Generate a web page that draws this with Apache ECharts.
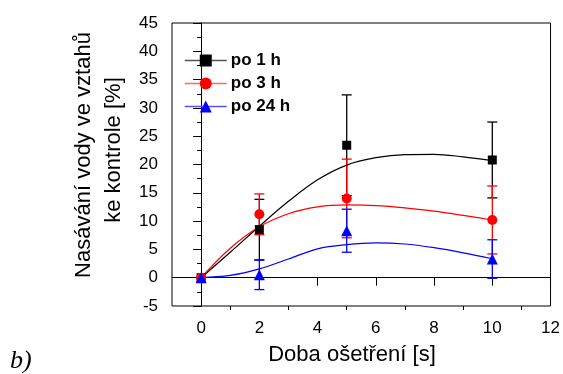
<!DOCTYPE html>
<html>
<head>
<meta charset="utf-8">
<script src="https://cdn.jsdelivr.net/npm/echarts@6/dist/echarts.min.js"></script>
<style>
  html, body { margin: 0; padding: 0; background: #fff; }
  #chart { width: 563px; height: 374px; }
</style>
</head>
<body>
<div id="chart"></div>
<script>
// measured points (treatment time [s])
const doba = [0, 2, 5, 10]
const po1Mean = [0, 8.5, 23.4, 20.8]
const po1Err = [0, 5.35, 8.9, 6.7]
const po3Mean = [0, 11.2, 14.0, 10.2]
const po3Err = [0, 3.6, 6.95, 6.0]
const po24Mean = [0, 0.5, 8.3, 3.3]
const po24Err = [0, 2.6, 3.8, 3.4]

// fitted curves
const fitX = [0, 1, 2, 3, 4, 5, 6, 7, 8, 9, 10]
const po1Fit = [0, 4.5, 9.1, 13.5, 17.3, 19.9, 21.2, 21.75, 21.8, 21.35, 20.7]
const po3Fit = [0, 5.2, 9.0, 11.3, 12.5, 12.85, 12.75, 12.35, 11.75, 11.0, 10.2]
const po24Fit = [0, 0.4, 1.55, 3.3, 5.1, 5.85, 6.15, 5.95, 5.3, 4.4, 3.35]

const xMajor = [0, 2, 4, 6, 8, 10, 12]
const xMinor = [1, 3, 5, 7, 9, 11]

const groups = [
  { name: 'po 1 h', mean: po1Mean, err: po1Err, fit: po1Fit, color: '#000000', legendLine: '#555555', symbol: 'rect', size: 9 },
  { name: 'po 3 h', mean: po3Mean, err: po3Err, fit: po3Fit, color: '#ff0000', legendLine: '#ff6666', symbol: 'circle', size: 10 },
  { name: 'po 24 h', mean: po24Mean, err: po24Err, fit: po24Fit, color: '#0000ff', legendLine: '#5555ff', symbol: 'triangle', size: 11 },
]

const font = 'Liberation Sans, Arial, sans-serif'

const errorSeries = groups.map((g) => ({
  type: 'custom',
  name: g.name + ' err',
  z: 2,
  data: doba.map((x, i) => [x, g.mean[i] - g.err[i], g.mean[i] + g.err[i]]).filter((d, i) => g.err[i] > 0),
  renderItem: function (params, api) {
    const lo = api.coord([api.value(0), api.value(1)])
    const hi = api.coord([api.value(0), api.value(2)])
    const st = { stroke: g.color, lineWidth: 1.3 }
    return {
      type: 'group',
      children: [
        { type: 'line', shape: { x1: lo[0], y1: lo[1], x2: hi[0], y2: hi[1] }, style: st },
        { type: 'line', shape: { x1: lo[0] - 5, y1: lo[1], x2: lo[0] + 5, y2: lo[1] }, style: st },
        { type: 'line', shape: { x1: hi[0] - 5, y1: hi[1], x2: hi[0] + 5, y2: hi[1] }, style: st },
      ],
    }
  },
  silent: true,
}))

const fitSeries = groups.map((g) => ({
  type: 'line',
  name: g.name + ' fit',
  z: 3,
  smooth: 0.35,
  showSymbol: false,
  data: fitX.map((x, i) => [x, g.fit[i]]),
  lineStyle: { color: g.color, width: 1.2 },
  silent: true,
}))

const markerSeries = groups.map((g) => ({
  type: 'line',
  name: g.name,
  z: 4,
  data: doba.map((x, i) => [x, g.mean[i]]),
  symbol: g.symbol,
  symbolSize: g.size,
  itemStyle: { color: g.color },
  lineStyle: { width: 0, color: g.color },
}))

const chart = echarts.init(document.getElementById('chart'))
chart.setOption({
  animation: false,
  backgroundColor: '#fff',
  grid: {
    left: 172, top: 23, right: 10, bottom: 68,
    show: true, borderColor: '#000', borderWidth: 1,
  },
  legend: {
    orient: 'vertical',
    left: 179,
    top: 47,
    itemWidth: 42,
    itemHeight: 15,
    itemGap: 6,
    textStyle: { fontFamily: font, fontSize: 17, fontWeight: 'bold', color: '#000', padding: [0, 0, 0, -1] },
    data: groups.map((g) => ({ name: g.name, lineStyle: { width: 1.5, color: g.legendLine } })),
  },
  xAxis: [
    {
      type: 'value', min: -1, max: 12,
      splitLine: { show: false },
      axisLine: { lineStyle: { color: '#000', width: 1 } },
      axisTick: { show: true, inside: false, length: 8, customValues: xMajor, lineStyle: { color: '#000' } },
      axisLabel: { customValues: xMajor, color: '#000', fontFamily: font, fontSize: 17, margin: 14 },
    },
    {
      type: 'value', min: -1, max: 12, position: 'bottom',
      splitLine: { show: false },
      axisLine: { show: false },
      axisTick: { show: true, inside: false, length: 4, customValues: xMinor, lineStyle: { color: '#000' } },
      axisLabel: { show: false },
    },
  ],
  yAxis: {
    type: 'value', min: -5, max: 45, interval: 5,
    splitLine: { show: false },
    axisLine: { show: true, lineStyle: { color: '#000', width: 1 } },
    axisTick: { show: true, inside: false, length: 8, lineStyle: { color: '#000' } },
    minorTick: { show: true, splitNumber: 2, length: 4, lineStyle: { color: '#000' } },
    axisLabel: { color: '#000', fontFamily: font, fontSize: 17, margin: 14 },
  },
  graphic: [
    {
      type: 'text', x: 352, y: 355,
      style: { text: 'Doba ošetření [s]', font: '22px ' + font, fill: '#000', textAlign: 'center', textVerticalAlign: 'middle' },
    },
    {
      type: 'text', x: 84, y: 155, rotation: Math.PI / 2,
      style: { text: 'Nasávání vody ve vztahů', font: '22px ' + font, fill: '#000', textAlign: 'center', textVerticalAlign: 'middle' },
    },
    {
      type: 'text', x: 114, y: 150, rotation: Math.PI / 2,
      style: { text: 'ke kontrole [%]', font: '22px ' + font, fill: '#000', textAlign: 'center', textVerticalAlign: 'middle' },
    },
    {
      type: 'text', x: 10, y: 361,
      style: { text: 'b)', font: 'italic 26px Liberation Serif, serif', fill: '#000', textAlign: 'left', textVerticalAlign: 'middle' },
    },
  ],
  series: [...errorSeries, ...fitSeries, ...markerSeries],
})
</script>
</body>
</html>
